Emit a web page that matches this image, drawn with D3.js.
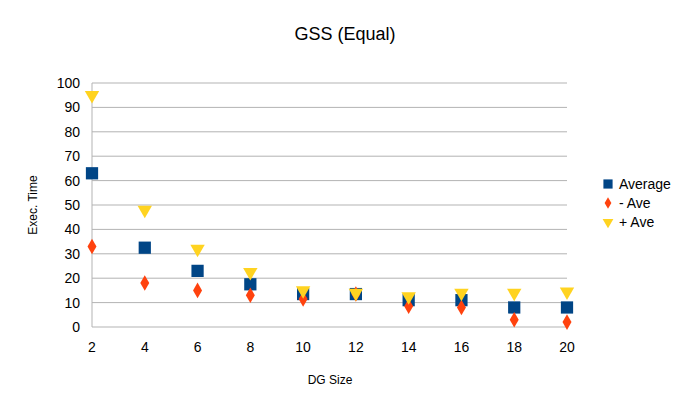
<!DOCTYPE html>
<html><head><meta charset="UTF-8">
<script src="https://d3js.org/d3.v7.min.js"></script>
<style>body{margin:0;background:#fff}text{font-family:"Liberation Sans",Arial,sans-serif}</style>
</head><body><svg width="691" height="413"></svg>
<script>
const sizes = [2,4,6,8,10,12,14,16,18,20];
const average = [63,32.5,23,17.5,13.5,13.5,11,11,8,8];
const minusAve = [33,18,15,13,11.5,13.5,8.5,8,3,2];
const plusAve = [95,48,32,22.5,15,14,12.5,14,14,14.5];
const yTicks = d3.range(0,101,10);

const svg = d3.select("svg");
const x = d3.scaleLinear().domain([2,20]).range([92,567]);
const y = d3.scaleLinear().domain([0,100]).range([327,83]);

svg.append("g").selectAll("line").data(yTicks).enter().append("line")
  .attr("x1",92).attr("x2",567).attr("y1",d=>y(d)).attr("y2",d=>y(d))
  .attr("stroke","#b3b3b3");
svg.append("line").attr("x1",92).attr("x2",92).attr("y1",83).attr("y2",327).attr("stroke","#b3b3b3");

svg.append("g").selectAll("text").data(yTicks).enter().append("text")
  .attr("x",80).attr("y",d=>y(d)+5).attr("text-anchor","end").attr("font-size",14).text(d=>d);
svg.append("g").selectAll("text").data(sizes).enter().append("text")
  .attr("x",d=>x(d)).attr("y",352).attr("text-anchor","middle").attr("font-size",14).text(d=>d);

svg.append("text").attr("x",345).attr("y",40).attr("text-anchor","middle").attr("font-size",18).text("GSS (Equal)");
svg.append("text").attr("x",330).attr("y",384).attr("text-anchor","middle").attr("font-size",12).text("DG Size");
svg.append("text").attr("transform","translate(37,205) rotate(-90)").attr("text-anchor","middle").attr("font-size",12).text("Exec. Time");

const sq = d3.symbol().type(d3.symbolSquare).size(150);
const dia = d3.symbol().type(d3.symbolDiamond).size(70);
const tri = d3.symbol().type(d3.symbolTriangle).size(90);

function series(vals, sym, color, rot){
  svg.append("g").selectAll("path").data(vals).enter().append("path")
    .attr("d",sym).attr("fill",color)
    .attr("transform",(d,i)=>`translate(${x(sizes[i])},${y(d)})${rot?" rotate(180)":""}`);
}
series(average, sq, "#004586");
series(minusAve, dia, "#ff420e");
series(plusAve, tri, "#ffd320", true);

const legend = [["Average",sq,"#004586",false],["- Ave",dia,"#ff420e",false],["+ Ave",tri,"#ffd320",true]];
legend.forEach((l,i)=>{
  const ly = 184 + i*19;
  svg.append("path").attr("d",l[1]).attr("fill",l[2])
    .attr("transform",`translate(608,${ly}) scale(0.75)${l[3]?" rotate(180)":""}`);
  svg.append("text").attr("x",619).attr("y",ly+5).attr("font-size",14).text(l[0]);
});
</script></body></html>
